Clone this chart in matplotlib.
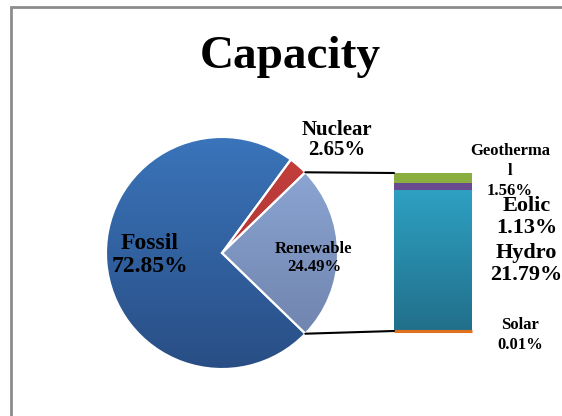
import numpy as np
import matplotlib
matplotlib.use("Agg")
import matplotlib.pyplot as plt
from matplotlib.colors import LinearSegmentedColormap
from matplotlib.patches import ConnectionPatch, Rectangle

# ---- data ----
title = "Capacity"
pie_labels = ["Renewable", "Nuclear", "Fossil"]
pie_values = [24.49, 2.65, 72.85]
bar_labels = ["Solar", "Hydro", "Eolic", "Geothermal"]
bar_values = [0.01, 21.79, 1.13, 1.56]
bar_label_texts = ["Solar\n0.01%", "Hydro\n21.79%", "Eolic\n1.13%", "Geotherma\nl\n1.56%"]

W, H = 562, 416
fig = plt.figure(figsize=(W / 100, H / 100), dpi=100)
FONT = "Liberation Serif"

def px(x, y):
    return x / W, 1 - y / H

# border frame
fig.patches.append(Rectangle(px(11, 430), 600 / W, 423 / H, transform=fig.transFigure,
                             fill=False, edgecolor="#8c8c8c", lw=2, figure=fig))

# ---- pie ----
cx, cy, r = 222, 253, 116
ax = fig.add_axes([(cx - r) / W, (H - cy - r) / H, 2 * r / W, 2 * r / H])
ren_angle = pie_values[0] / sum(pie_values) * 360
wedges, _ = ax.pie(pie_values, startangle=-ren_angle / 2, counterclock=True,
                   wedgeprops=dict(edgecolor="white", linewidth=1.5))
grads = [("#6a7ea8", "#91abd9"), ("#a02f2d", "#c6403d"), ("#294e85", "#3a74ba")]
grad = np.linspace(0, 1, 256).reshape(-1, 1)
for w, (c0, c1) in zip(wedges, grads):
    cmap = LinearSegmentedColormap.from_list("g", [c0, c1])
    im = ax.imshow(grad, extent=[-1, 1, -1, 1], origin="lower", cmap=cmap,
                   aspect="auto", zorder=1, interpolation="bilinear")
    im.set_clip_path(w)
    w.set_facecolor("none")
    w.set_zorder(2)
ax.set_xlim(-1.0, 1.0)
ax.set_ylim(-1.0, 1.0)
ax.set_aspect("equal")
ax.axis("off")

# ---- stacked bar ----
bx0, bx1, by0, by1 = 394, 472, 173, 331
bax = fig.add_axes([bx0 / W, (H - by1) / H, (bx1 - bx0) / W, (by1 - by0) / H])
bar_colors = ["#e2711d", None, "#6a4a8e", "#8aad3f"]
bottom = 0
total = sum(bar_values)
for lab, v, c in zip(bar_labels, bar_values, bar_colors):
    if lab == "Hydro":
        cmap = LinearSegmentedColormap.from_list("h", ["#216f8a", "#2ea0c2"])
        im = bax.imshow(grad, extent=[-0.5, 0.5, bottom, bottom + v], origin="lower",
                        cmap=cmap, aspect="auto", zorder=1, interpolation="bilinear")
    else:
        lw = 2.2 if v < 0.1 else 0
        bax.bar(0, v, bottom=bottom, width=1.0, color=c, edgecolor=c, linewidth=lw,
                zorder=2, clip_on=False)
    bottom += v
bax.set_xlim(-0.5, 0.5)
bax.set_ylim(0, total)
bax.axis("off")

# connectors
theta = np.deg2rad(ren_angle / 2)
for sgn, yb in [(1, total), (-1, 0)]:
    con = ConnectionPatch(xyA=(np.cos(theta), sgn * np.sin(theta)), coordsA=ax.transData,
                          xyB=(-0.5, yb), coordsB=bax.transData, color="black", lw=1.5)
    fig.add_artist(con)

# ---- texts ----
def label(x, y, s, size, ls=1.15):
    fig.text(*px(x, y), s, ha="center", va="center", fontsize=size, fontweight="bold",
             family=FONT, linespacing=ls)

label(290, 57, title, 34)
label(150, 255, f"{pie_labels[2]}\n{pie_values[2]:.2f}%", 17, 1.08)
label(337, 140, f"{pie_labels[1]}\n{pie_values[1]:.2f}%", 15, 1.05)
label(314, 258, f"{pie_labels[0]}\n{pie_values[0]:.2f}%", 12, 1.15)
label(510, 171, bar_label_texts[3], 12, 1.35)
label(527, 217, bar_label_texts[2], 16, 1.12)
label(526, 264, bar_label_texts[1], 16, 1.12)
label(520, 335, bar_label_texts[0], 12, 1.3)

fig.savefig("out.png", dpi=100)
